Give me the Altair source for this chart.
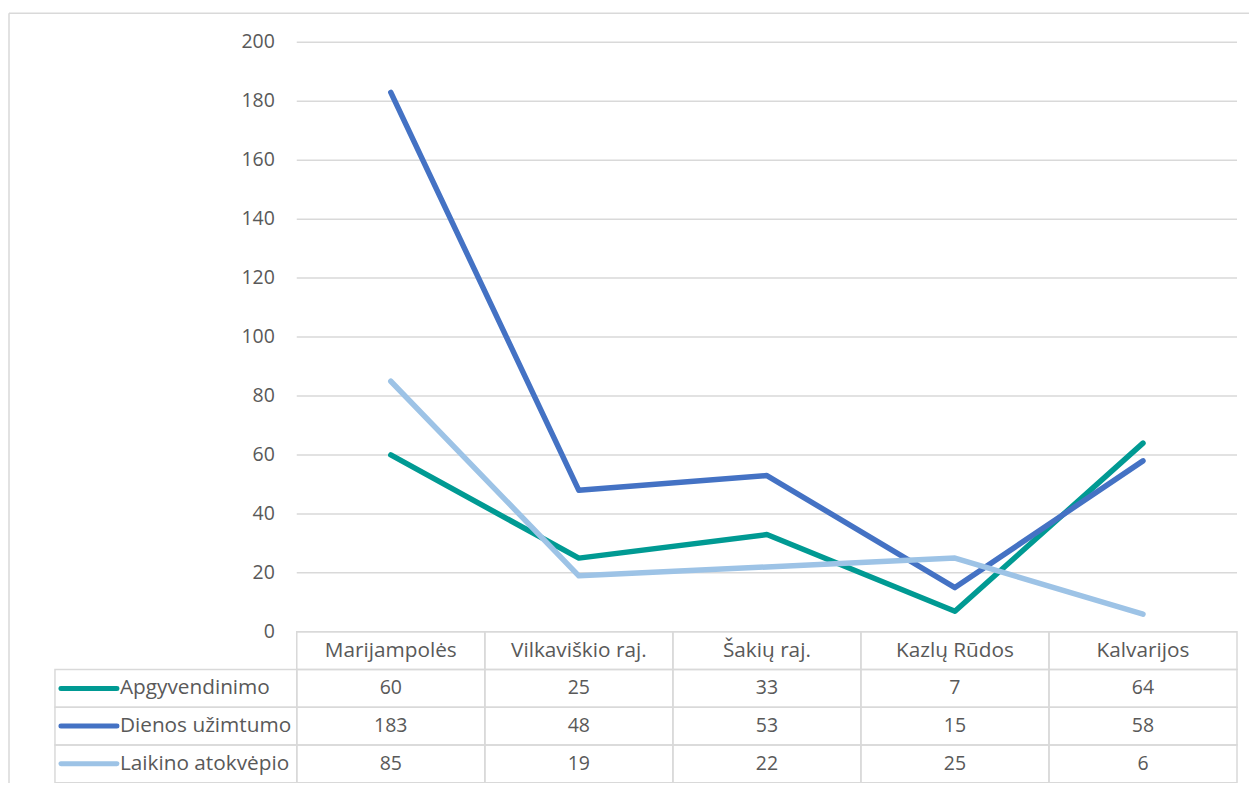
import altair as alt
import pandas as pd

# ---------------- data ----------------
categories = ["Marijampolės", "Vilkaviškio raj.", "Šakių raj.", "Kazlų Rūdos", "Kalvarijos"]
series_names = ["Apgyvendinimo", "Dienos užimtumo", "Laikino atokvėpio"]
apgyvendinimo = [60, 25, 33, 7, 64]
dienos_uzimtumo = [183, 48, 53, 15, 58]
laikino_atokvepio = [85, 19, 22, 25, 6]
y_ticks = [0, 20, 40, 60, 80, 100, 120, 140, 160, 180, 200]
series_colors = ["#009a93", "#4472c4", "#9dc3e6"]

FONT = "Open Sans"
TEXT = "#595959"
GRID = "#d9d9d9"
NUM_SIZE = 19.5
LABEL_SIZE = 20.8

COL_W = 188.2                 # px width of one category column
LEFT_W = 242.0                # px width of the legend column of the table
X0 = -LEFT_W / COL_W          # left edge of the table in column units
N = len(categories)

PLOT_H = 590
ROW_H = 37.75
TABLE_H = 4 * ROW_H

# ---------------- tables ----------------
rows = []
for s, vals in zip(series_names, [apgyvendinimo, dienos_uzimtumo, laikino_atokvepio]):
    for i, (c, v) in enumerate(zip(categories, vals)):
        rows.append(dict(series=s, category=c, mid=i + 0.5, value=v, row=s, label=str(v)))
df = pd.DataFrame(rows)

cells = []
for i, c in enumerate(categories):
    cells.append(dict(row="hdr", x=i, x2=i + 1, label=c, mid=i + 0.5))
for s in series_names:
    cells.append(dict(row=s, x=X0, x2=0, label="", mid=0))
    for i in range(N):
        cells.append(dict(row=s, x=i, x2=i + 1, label="", mid=i + 0.5))
cells_df = pd.DataFrame(cells)
header_df = cells_df[cells_df.row == "hdr"]

legend_df = pd.DataFrame(dict(
    row=series_names,
    series=series_names,
    sx=[X0 + 6 / COL_W] * 3,
    ex=[X0 + 62 / COL_W] * 3,
    lx=[X0] * 3,
))

ticks_df = pd.DataFrame(dict(value=y_ticks, x=[0] * len(y_ticks), x2=[N] * len(y_ticks),
                             label=[str(t) for t in y_ticks]))

# ---------------- scales ----------------
xs = alt.Scale(domain=[X0, N], nice=False, zero=False)
yline = alt.Scale(domain=[0, 200], range=[PLOT_H, 0], nice=False, zero=False)
ytab = alt.Scale(domain=["hdr"] + series_names, range=[PLOT_H, PLOT_H + TABLE_H],
                 paddingInner=0, paddingOuter=0)
cscale = alt.Scale(domain=series_names, range=series_colors)

# ---------------- layers ----------------
frame_left = alt.Chart(pd.DataFrame({"a": [0]})).mark_rule(color=GRID, strokeWidth=1.5).encode(
    x=alt.value(-46), y=alt.value(-29), y2=alt.value(PLOT_H + TABLE_H + 60))
frame_top = alt.Chart(pd.DataFrame({"a": [0]})).mark_rule(color=GRID, strokeWidth=1.5).encode(
    x=alt.value(-46), x2=alt.value(1260), y=alt.value(-29))

grid = alt.Chart(ticks_df).mark_rule(color=GRID, strokeWidth=1.5).encode(
    x=alt.X("x:Q", scale=xs, axis=None),
    x2="x2:Q",
    y=alt.Y("value:Q", scale=yline, axis=None),
)

ylabels = alt.Chart(ticks_df).mark_text(
    align="right", baseline="middle", dx=-22, font=FONT, fontSize=NUM_SIZE, color=TEXT
).encode(
    x=alt.X("x:Q", scale=xs, axis=None),
    y=alt.Y("value:Q", scale=yline, axis=None),
    text="label:N",
)

cell_rects = alt.Chart(cells_df).mark_rect(
    fill="white", fillOpacity=0, stroke=GRID, strokeWidth=1.5
).encode(
    x=alt.X("x:Q", scale=xs, axis=None),
    x2="x2:Q",
    y=alt.Y("row:N", scale=ytab, axis=None),
)

header_text = alt.Chart(header_df).mark_text(
    align="center", baseline="middle", font=FONT, fontSize=LABEL_SIZE, color=TEXT
).encode(
    x=alt.X("mid:Q", scale=xs, axis=None),
    y=alt.Y("row:N", scale=ytab, axis=None),
    text="label:N",
)

value_text = alt.Chart(df).mark_text(
    align="center", baseline="middle", font=FONT, fontSize=NUM_SIZE, color=TEXT
).encode(
    x=alt.X("mid:Q", scale=xs, axis=None),
    y=alt.Y("row:N", scale=ytab, axis=None),
    text="label:N",
)

swatch = alt.Chart(legend_df).mark_rule(strokeWidth=5, strokeCap="round").encode(
    x=alt.X("sx:Q", scale=xs, axis=None),
    x2="ex:Q",
    y=alt.Y("row:N", scale=ytab, axis=None),
    color=alt.Color("series:N", scale=cscale, legend=None),
)

legend_text = alt.Chart(legend_df).mark_text(
    align="left", baseline="middle", dx=65, font=FONT, fontSize=LABEL_SIZE, color=TEXT
).encode(
    x=alt.X("lx:Q", scale=xs, axis=None),
    y=alt.Y("row:N", scale=ytab, axis=None),
    text="series:N",
)

line_layers = []
for s in series_names:
    line_layers.append(
        alt.Chart(df[df.series == s]).mark_line(
            strokeWidth=5.5, strokeCap="round", strokeJoin="round"
        ).encode(
            x=alt.X("mid:Q", scale=xs, axis=None),
            y=alt.Y("value:Q", scale=yline, axis=None),
            color=alt.Color("series:N", scale=cscale, legend=None),
        )
    )

chart = alt.layer(
    frame_left, frame_top, grid, ylabels, cell_rects, header_text, value_text,
    swatch, legend_text, *line_layers
).resolve_scale(y="independent").properties(
    width=LEFT_W + COL_W * N,
    height=PLOT_H + TABLE_H,
    padding={"left": 47, "top": 34, "right": 12, "bottom": 0},
    autosize=alt.AutoSizeParams(type="none"),
    background="white",
).configure_view(stroke=None)

chart.save("out.html", embed_options={"renderer": "svg", "actions": False})
